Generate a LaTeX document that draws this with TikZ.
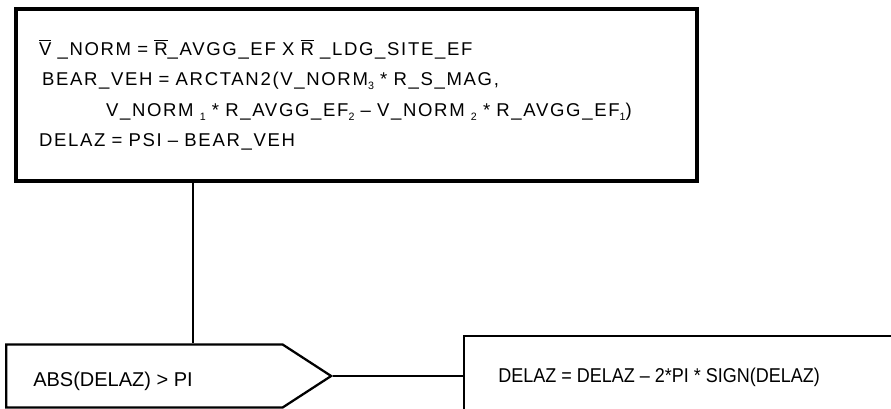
\documentclass[tikz,border=0pt]{standalone}
\usepackage{fontspec}
\setmainfont{Liberation Sans}
\newfontfamily\spacedsans[LetterSpace=9]{Liberation Sans}
\newfontfamily\narrowsans[FakeStretch=0.9]{Liberation Sans}
\usetikzlibrary{shapes.symbols}
\newcommand\vecbar[1]{$\overline{\mbox{#1}}$}
\newcommand\idx[1]{\raisebox{-0.4ex}{\fontsize{8}{8}\selectfont #1}}

\begin{document}
\begin{tikzpicture}[
    x=0.75pt, y=-0.75pt,
    calcbox/.style={draw, line width=2.3pt, shape=rectangle, align=left,
      text width=476.25pt, inner xsep=17.25pt, minimum height=129pt,
      font=\spacedsans\fontsize{13.9}{22.9}\selectfont},
    testbox/.style={draw, line width=1.7pt, shape=signal, signal to=east, anchor=west,
      signal pointer angle=66, minimum width=243.75pt, minimum height=47.25pt},
    fixbox/.style={draw, line width=1.7pt, shape=rectangle, anchor=north west,
      minimum width=400pt, minimum height=80pt},
    plain/.style={anchor=base west, inner sep=0pt},
    wire/.style={line width=1.5pt}
    ]

    \path[use as bounding box] (0,0) rectangle (891,409);
    \clip (0,0) rectangle (891,409);

    \node[calcbox] (calc) at (356.5,95)
      {\vecbar{V} \_NORM = \vecbar{R}\_AVGG\_EF X \vecbar{R} \_LDG\_SITE\_EF\\
       \hspace*{2.25pt}BEAR\_VEH = ARCTAN2(V\_NORM\idx{3} * R\_S\_MAG,\\
       \hspace*{50.25pt}V\_NORM \idx{1} * R\_AVGG\_EF\idx{2} – V\_NORM \idx{2} * R\_AVGG\_EF\idx{1})\\
       DELAZ = PSI – BEAR\_VEH};

    \node[testbox] (test) at (5,376) {};
    \node[plain, font=\fontsize{15}{15}\selectfont] (testtext) at (33,386.7)
      {ABS(DELAZ) > PI};

    \node[fixbox] (fix) at (463,335) {};
    \node[plain, font=\narrowsans\fontsize{15}{15}\selectfont] (fixtext) at (498,382.3)
      {DELAZ = DELAZ – 2*PI * SIGN(DELAZ)};

    \coordinate (drop) at (193,0);
    \draw[wire] (drop |- calc.south) -- (drop |- test.north);
    \draw[wire] (test.east) -- (fix.west |- test.east);

\end{tikzpicture}
\end{document}
